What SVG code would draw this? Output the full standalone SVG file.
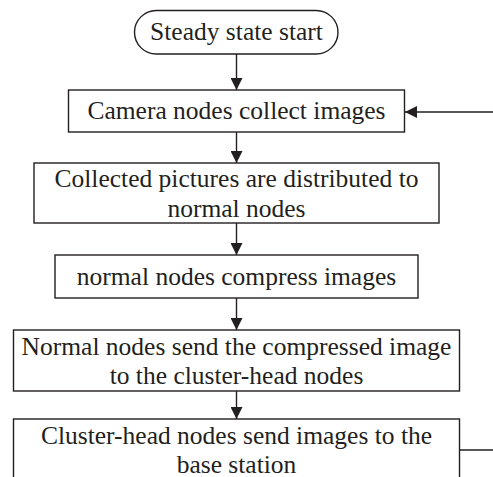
<svg xmlns="http://www.w3.org/2000/svg" width="493" height="477" viewBox="0 0 493 477">
<defs>
<style>
.box{fill:#fff;stroke:#231f20;stroke-width:1.4}
.t{font-family:"Liberation Serif","Times New Roman",serif;font-size:25.5px;fill:#231f20;text-anchor:middle}
.c{fill:none;stroke:#231f20;stroke-width:1.4}
</style>
<marker id="ah" viewBox="0 0 12 12" refX="12" refY="6" markerWidth="12" markerHeight="12" markerUnits="userSpaceOnUse" orient="auto">
<path d="M0,0 L12,6 L0,12 Z" fill="#231f20"/>
</marker>
</defs>
<rect width="493" height="477" fill="#fff"/>
<g id="connectors">
<line class="c" x1="236.5" y1="54" x2="236.5" y2="90" marker-end="url(#ah)"/>
<line class="c" x1="236.5" y1="132" x2="236.5" y2="163" marker-end="url(#ah)"/>
<line class="c" x1="236.5" y1="223" x2="236.5" y2="255" marker-end="url(#ah)"/>
<line class="c" x1="236.5" y1="298" x2="236.5" y2="330" marker-end="url(#ah)"/>
<line class="c" x1="236.5" y1="391" x2="236.5" y2="419" marker-end="url(#ah)"/>
<line class="c" x1="493" y1="112" x2="405" y2="112" marker-end="url(#ah)"/>
<line class="c" x1="460" y1="450" x2="493" y2="450"/>
</g>
<g id="start">
<rect class="box" x="134.5" y="10.5" width="203.5" height="43.5" rx="21.75"/>
<text class="t" x="236.5" y="40">Steady state start</text>
</g>
<g id="collect">
<rect class="box" x="68.5" y="90" width="336" height="42"/>
<text class="t" x="236.5" y="119">Camera nodes collect images</text>
</g>
<g id="distribute">
<rect class="box" x="34" y="163" width="405" height="60"/>
<text class="t" x="236.5" y="187">Collected pictures are distributed to</text>
<text class="t" x="236.5" y="216.5">normal nodes</text>
</g>
<g id="compress">
<rect class="box" x="55" y="255" width="363" height="43"/>
<text class="t" x="236.5" y="285">normal nodes compress images</text>
</g>
<g id="send">
<rect class="box" x="13.5" y="330" width="446" height="61"/>
<text class="t" x="236.5" y="354.5">Normal nodes send the compressed image</text>
<text class="t" x="236.5" y="383.5">to the cluster-head nodes</text>
</g>
<g id="base">
<rect class="box" x="13.5" y="419" width="446" height="80"/>
<text class="t" x="236.5" y="444">Cluster-head nodes send images to the</text>
<text class="t" x="236.5" y="473">base station</text>
</g>
</svg>
